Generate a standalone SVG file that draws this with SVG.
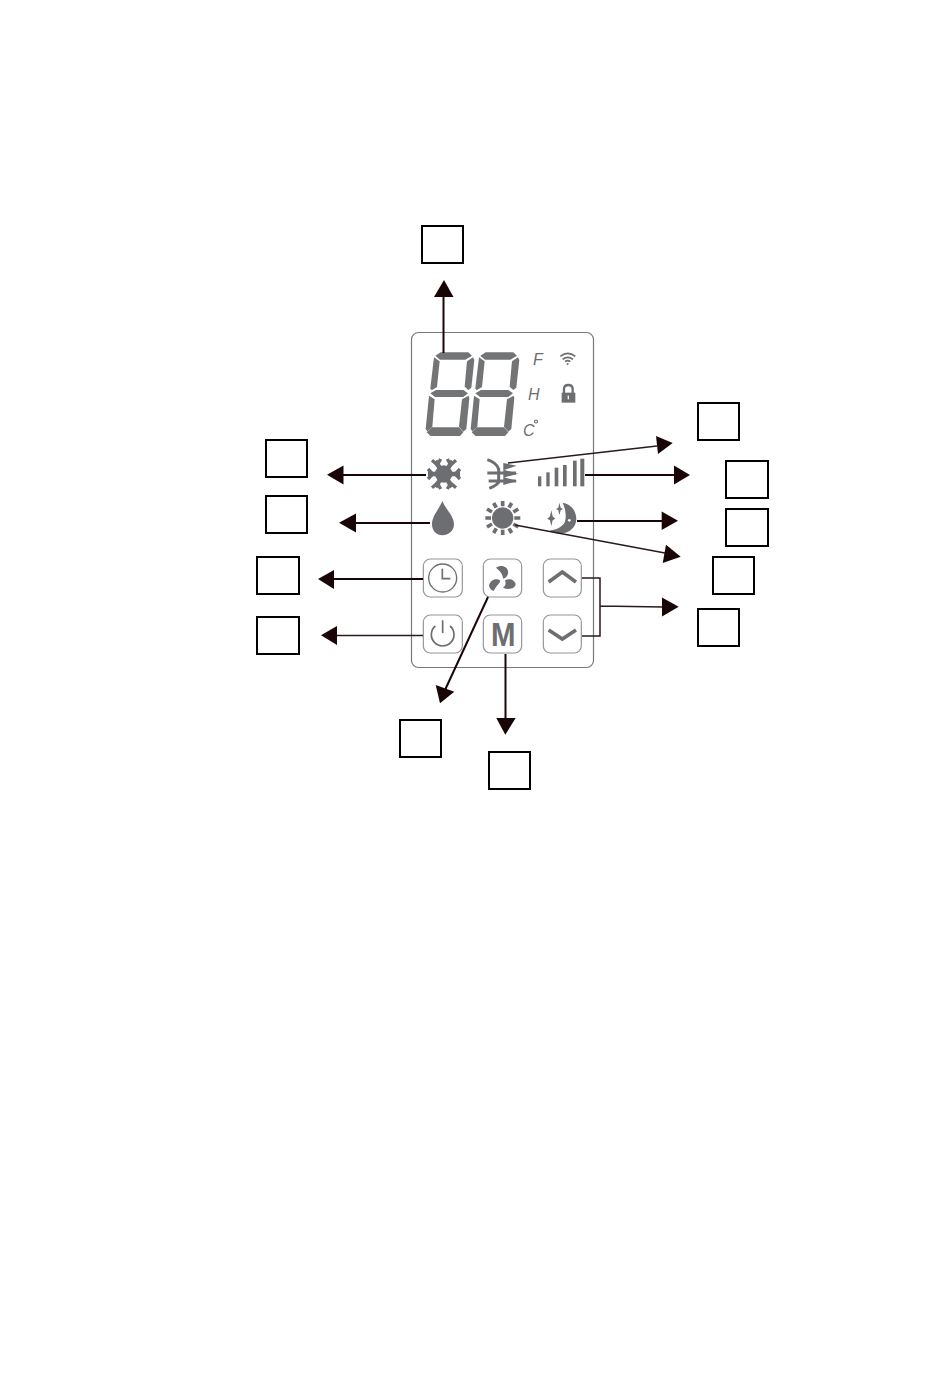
<svg xmlns="http://www.w3.org/2000/svg" width="950" height="1397" viewBox="0 0 950 1397">
<style>
.box{fill:#fff;stroke:#000;stroke-width:2}
.seg{fill:#737476}
.ic{fill:#6d6e71}
.key{fill:#fff;stroke:#939598;stroke-width:3.500}
.lb{font-family:"Liberation Sans",Arial,sans-serif;font-style:italic;font-size:16px;fill:#6d6e71}
.c{fill:none;stroke:#1a0506;stroke-width:2}
.t{fill:none;stroke:#2a1a1a;stroke-width:1.500}
.h{fill:#1a0506}
</style>
<defs>
<g id="digit" class="seg">
<polygon points="122,82 205,82 216,92 196,104 120,104 106,92"/>
<polygon points="102,97 119,109 111,186 95,196 91,190"/>
<polygon points="219,97 223,105 214,188 205,195 194,185 201,109"/>
<polygon points="108,195 190,195 204,205 190,216 105,216 91,205"/>
<polygon points="87,212 104,223 97,305 82,319 77,312"/>
<polygon points="206,212 208,220 199,312 190,320 177,305 186,223"/>
<polygon points="95,307 177,307 190,322 180,333 92,333 80,322"/>
</g>
</defs>
<rect width="950" height="1397" fill="#fff"/>
<g id="panel"><rect x="411.500" y="332.500" width="182" height="335" rx="7" fill="#fff" stroke="#77787b" stroke-width="1.200"/></g>
<g id="display">
<g transform="translate(400 325) scale(.3333)"><use href="#digit"/><use href="#digit" x="135"/></g>
<text class="lb" x="533" y="365">F</text>
<text class="lb" x="528" y="400">H</text>
<text class="lb" x="523" y="436">C</text>
<circle cx="536" cy="421.500" r="1.500" fill="none" stroke="#6d6e71" stroke-width="1.200"/>
</g>
<g id="wifi" transform="translate(400 325) scale(.3333)">
<path d="M481 94Q503 76 526 94M488 103Q503 91 519 103M495 110Q503 104 511 110" fill="none" stroke="#6d6e71" stroke-width="5"/>
<circle cx="503" cy="117" r="3" fill="#6d6e71"/>
</g>
<g id="lock" transform="translate(400 325) scale(.3333)">
<path d="M492 205V192Q492 180 505 180Q518 180 518 192V205" fill="none" stroke="#6d6e71" stroke-width="7"/>
<rect x="485" y="203" width="41" height="30" fill="#6d6e71"/>
<rect x="503" y="212" width="4" height="11" fill="#fff"/>
</g>
<g id="snow" transform="translate(410 445) scale(.3333)" class="ic">
<g stroke="#6d6e71" fill="none">
<path stroke-width="14" d="M76 48L126 126M128 48L76 126M54 87H150"/>
<path stroke-width="10" d="M66 46L82 60L92 42M138 46L122 60L112 42M66 128L82 114L92 132M138 128L122 114L112 132M54 72L68 87L54 102M150 72L136 87L150 102"/>
</g>
<circle cx="101" cy="87" r="26"/>
</g>
<g id="dehum" transform="translate(410 445) scale(.3333)">
<path d="M232 44Q258 52 266 72V112Q258 122 238 130M232 84H318M236 108H318" fill="none" stroke="#6d6e71" stroke-width="9"/>
<path d="M280 54L320 62L280 76ZM280 74L324 86L280 98ZM280 96L322 108L280 120Z" fill="#6d6e71"/>
</g>
<g id="bars" transform="translate(410 445) scale(.3333)" class="ic">
<rect x="384" y="94" width="10" height="30"/><rect x="409" y="82" width="10" height="42"/><rect x="434" y="68" width="11" height="56"/><rect x="459" y="60" width="11" height="64"/><rect x="489" y="47" width="11" height="77"/><rect x="511" y="41" width="12" height="83"/>
</g>
<g id="drop" transform="translate(410 445) scale(.3333)"><path class="ic" d="M97 168C88 192 66 212 66 238C66 258 80 271 97 271C115 271 132 258 132 238C132 212 106 192 97 168Z"/></g>
<g id="sun" transform="translate(410 445) scale(.3333)">
<circle class="ic" cx="278" cy="219" r="32"/>
<path d="M278 168V184M278 254V270M226 219H243M313 219H331M251 174L259 188M305 174L297 188M231 192L246 201M325 192L310 201M231 246L246 237M325 246L310 237M251 264L259 250M305 264L297 250" stroke="#6d6e71" stroke-width="11" fill="none"/>
</g>
<g id="moon" transform="translate(410 445) scale(.3333)">
<path class="ic" d="M458 173C488 178 499 203 499 222C499 246 478 266 448 266C437 266 427 262 420 256C442 254 452 246 462 236C468 226 468 212 466 200C465 190 462 182 458 173Z"/>
<circle cx="478" cy="226" r="4" fill="#fff"/>
<path class="ic" d="M448 173L452 188L459 192L452 196L448 211L445 196L438 192L445 188ZM424 196L428 214L436 221L428 226L424 244L420 226L412 221L420 214Z"/>
</g>
<g id="key-clock" transform="translate(410 545) scale(.3333)">
<rect class="key" x="40" y="42" width="117" height="114" rx="21"/>
<circle cx="98" cy="99" r="42" fill="none" stroke="#6d6e71" stroke-width="4"/>
<path d="M97 71V101H121" fill="none" stroke="#6d6e71" stroke-width="5"/>
</g>
<g id="key-power" transform="translate(410 545) scale(.3333)">
<rect class="key" x="40" y="210" width="117" height="114" rx="21"/>
<path d="M76 243A34 34 0 1 0 120 243" fill="none" stroke="#6d6e71" stroke-width="5"/>
<path d="M98 226V264" stroke="#6d6e71" stroke-width="5"/>
</g>
<g id="key-fan" transform="translate(410 545) scale(.3333)">
<rect class="key" x="220" y="42" width="115" height="114" rx="21"/>
<path class="ic" d="M258 68C275 56 298 66 294 86C291 96 284 100 279 101C279 88 270 78 258 68ZM285 106C298 98 315 104 317 118C316 131 295 136 279 128C288 122 288 115 285 106ZM271 107C258 97 240 106 237 122C239 132 247 138 252 137C258 122 269 116 271 107Z"/>
</g>
<g id="key-mode" transform="translate(410 545) scale(.3333)">
<rect class="key" x="220" y="210" width="115" height="114" rx="21"/>
</g>
<text x="491" y="646" textLength="24.500" lengthAdjust="spacingAndGlyphs" font-family="'Liberation Sans',Arial,sans-serif" font-weight="bold" font-size="33" fill="#6d6e71">M</text>
<g id="key-up" transform="translate(410 545) scale(.3333)">
<rect class="key" x="400" y="42" width="114" height="114" rx="21"/>
<path d="M416 111L457 81L498 111" fill="none" stroke="#6d6e71" stroke-width="11"/>
</g>
<g id="key-down" transform="translate(410 545) scale(.3333)">
<rect class="key" x="400" y="210" width="114" height="114" rx="21"/>
<path d="M416 255L457 282L498 255" fill="none" stroke="#6d6e71" stroke-width="11"/>
</g>
<g id="connectors">
<path class="c" d="M443.500 353V296"/><polygon class="h" points="444,280 434,297 453.500,297"/>
<path class="c" d="M426 475H342"/><polygon class="h" points="327,474.700 343.500,465.500 343.500,484.500"/>
<path class="c" d="M430 523H355"/><polygon class="h" points="339,522.700 356,513.500 356,532.500"/>
<path class="c" d="M423 579H333"/><polygon class="h" points="318,579 334,570 334,589"/>
<path class="t" d="M423 635.500H336"/><polygon class="h" points="321,635.300 337,626 337,645"/>
<path class="c" d="M488 597L445 690"/><polygon class="h" points="440,703.300 435.700,685 454.300,691.700"/>
<path class="c" d="M505.500 654V719"/><polygon class="h" points="505.300,734.700 496.300,718 515.700,718"/>
<path class="t" d="M508 463L657 446"/><polygon class="h" points="672.700,443 656,436 658,454"/>
<path class="c" d="M585 475H675"/><polygon class="h" points="690,475 674,465.500 674,484.500"/>
<path class="c" d="M577 521H663"/><polygon class="h" points="678,520.700 661.700,511.500 661.700,530"/>
<path class="t" d="M515 525L665 553"/><polygon class="h" points="680.700,556.700 666,544.700 662.700,563"/>
<path class="t" d="M582 578H600V636H582M600 606L663 607"/><polygon class="h" points="678.700,606.700 662,597.500 662,616.500"/>
</g>
<g id="label-1"><rect class="box" x="422" y="226" width="41" height="37"/></g>
<g id="label-2"><rect class="box" x="266" y="440" width="41" height="37"/></g>
<g id="label-3"><rect class="box" x="266" y="496" width="41" height="37"/></g>
<g id="label-4"><rect class="box" x="257" y="557" width="42" height="37"/></g>
<g id="label-5"><rect class="box" x="257" y="617" width="42" height="37"/></g>
<g id="label-6"><rect class="box" x="400" y="720" width="41" height="37"/></g>
<g id="label-7"><rect class="box" x="489" y="752" width="41" height="37"/></g>
<g id="label-8"><rect class="box" x="698" y="403" width="41" height="37"/></g>
<g id="label-9"><rect class="box" x="726" y="461" width="42" height="37"/></g>
<g id="label-10"><rect class="box" x="726" y="509" width="42" height="37"/></g>
<g id="label-11"><rect class="box" x="713" y="557" width="41" height="37"/></g>
<g id="label-12"><rect class="box" x="698" y="609" width="41" height="37"/></g>
</svg>
